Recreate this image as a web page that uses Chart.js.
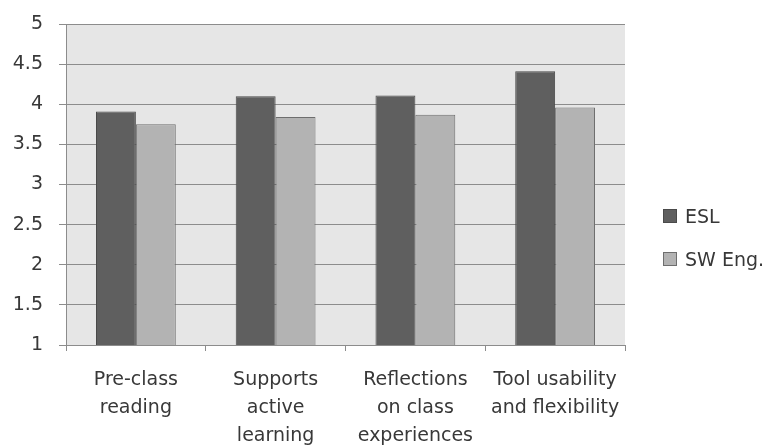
<!DOCTYPE html>
<html>
<head>
<meta charset="utf-8">
<script src="https://cdn.jsdelivr.net/npm/chart.js@4.4.1/dist/chart.umd.min.js"></script>
<style>
  body { margin: 0; background: #fff; overflow: hidden; }
  #wrap { position: relative; width: 764px; height: 449px; }
  .legend-item { position: absolute; left: 663px; font: 19px "DejaVu Sans", sans-serif; color: #383838; display: flex; align-items: center; height: 22px; white-space: nowrap; }
  .legend-item .sw { width: 12px; height: 12px; border: 1px solid; margin-right: 8px; flex: none; }
</style>
</head>
<body>
<div id="wrap">
  <canvas id="surveyChart" width="764" height="449"></canvas>
  <div class="legend-item" style="top:205px"><span class="sw" style="background:#5f5f5f;border-color:#4a4a4a"></span>ESL</div>
  <div class="legend-item" style="top:248px"><span class="sw" style="background:#b3b3b3;border-color:#6e6e6e"></span>SW Eng.</div>
</div>
<script>
const categories = [
    ['Pre-class', 'reading'],
    ['Supports', 'active', 'learning'],
    ['Reflections', 'on class', 'experiences'],
    ['Tool usability', 'and flexibility']
];
const eslValues = [3.91, 4.10, 4.11, 4.41];
const swEngValues = [3.75, 3.84, 3.87, 3.96];
const yTicks = [1, 1.5, 2, 2.5, 3, 3.5, 4, 4.5, 5];

// fills the plot area with the light gray background
const plotBackground = {
    id: 'plotBackground',
    beforeDraw(chart) {
        const { ctx, chartArea } = chart;
        ctx.save();
        ctx.fillStyle = '#e6e6e6';
        ctx.fillRect(chartArea.left, chartArea.top, chartArea.right - chartArea.left, chartArea.bottom - chartArea.top);
        ctx.restore();
    }
};

function createSurveyChart() {
    const ctx = document.getElementById('surveyChart');
    if (!ctx) return;

    Chart.defaults.font.family = '"DejaVu Sans", sans-serif';
    Chart.defaults.color = '#383838';

    new Chart(ctx, {
        type: 'bar',
        data: {
            labels: categories,
            datasets: [
                {
                    label: 'ESL',
                    data: eslValues,
                    backgroundColor: '#5f5f5f',
                    borderColor: '#4a4a4a',
                    borderWidth: 1,
                    barPercentage: 1,
                    categoryPercentage: 0.571
                },
                {
                    label: 'SW Eng.',
                    data: swEngValues,
                    backgroundColor: '#b3b3b3',
                    borderColor: '#6e6e6e',
                    borderWidth: 1,
                    barPercentage: 1,
                    categoryPercentage: 0.571
                }
            ]
        },
        options: {
            responsive: false,
            animation: false,
            layout: { padding: { top: 24, right: 139, left: 0, bottom: 0 } },
            plugins: { legend: { display: false }, tooltip: { enabled: false } },
            scales: {
                x: {
                    afterFit(scale) { scale.height = 104; },
                    grid: { offset: true, drawOnChartArea: false, tickLength: 6, color: '#8c8c8c' },
                    border: { color: '#8c8c8c' },
                    ticks: { font: { size: 19, lineHeight: '28px' }, padding: 15, maxRotation: 0, autoSkip: false }
                },
                y: {
                    min: 1,
                    max: 5,
                    // fixed axis width; drop the label padding so the plot top sits at 24px
                    afterFit(scale) {
                        scale.width = 66;
                        scale.paddingTop = 0;
                        scale.paddingBottom = 0;
                    },
                    afterBuildTicks(scale) { scale.ticks = yTicks.map(v => ({ value: v })); },
                    grid: { color: '#8c8c8c', tickLength: 7 },
                    border: { color: '#8c8c8c' },
                    ticks: { font: { size: 19 }, padding: 16, callback: v => String(v) }
                }
            }
        },
        plugins: [plotBackground]
    });
}

document.addEventListener('DOMContentLoaded', () => {
    createSurveyChart();
});
</script>
</body>
</html>
